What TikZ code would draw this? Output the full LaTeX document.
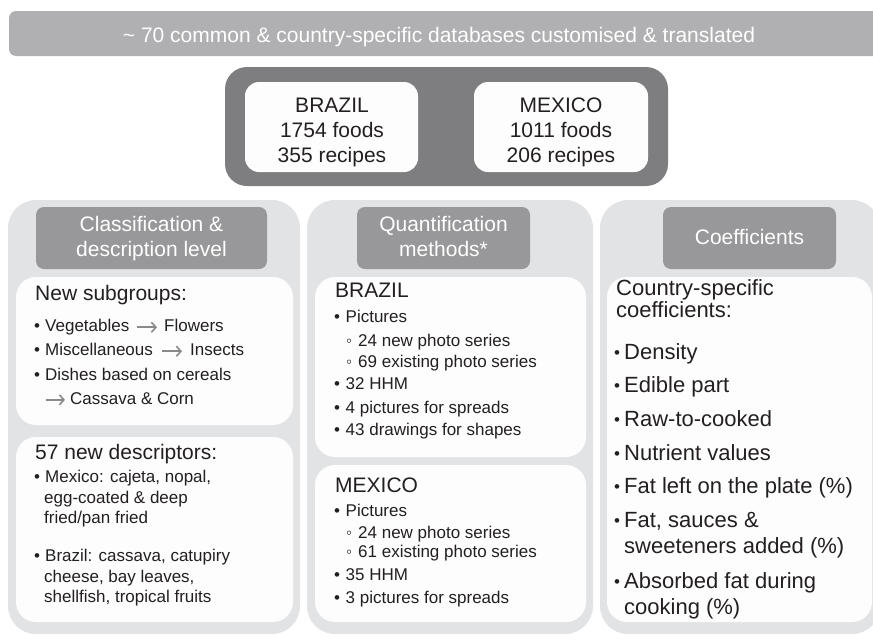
\documentclass[tikz,border=0pt]{standalone}
\usepackage{fontspec}
\setmainfont{Liberation Sans}
\usetikzlibrary{arrows.meta}
\definecolor{banner}{HTML}{B0B0B2}
\definecolor{darkbox}{HTML}{7E7E81}
\definecolor{hdr}{HTML}{98989A}
\definecolor{cont}{HTML}{E2E3E5}
\definecolor{inner}{HTML}{FDFDFD}
\definecolor{ink}{HTML}{231F20}
\definecolor{arrowgray}{HTML}{8A8A8C}
\newcommand\bul[1]{\makebox[#1][l]{•}}
\newcommand\sbul[1]{\makebox[#1][l]{\fontsize{17}{20}\selectfont\raisebox{1pt}{•}}}
\newcommand\wbul[1]{\makebox[#1][l]{◦}}
\begin{document}
\begin{tikzpicture}[x=1pt,y=-1pt,
  bigtxt/.style={inner sep=0pt, anchor=base west, text=ink, font=\fontsize{21}{25}\selectfont},
  cotxt/.style={inner sep=0pt, anchor=base west, text=ink, font=\fontsize{22}{26}\selectfont},
  smalltxt/.style={inner sep=0pt, anchor=base west, text=ink, font=\fontsize{17}{20}\selectfont, text height=12.5pt, text depth=3.6pt},
  hdrtxt/.style={inner sep=0pt, anchor=base, text=white, font=\fontsize{21}{25}\selectfont},
  toptxt/.style={inner sep=0pt, anchor=base, text=ink, font=\fontsize{21}{25}\selectfont},
  contbox/.style={fill=cont, rounded corners=28pt},
  hdrbox/.style={fill=hdr, rounded corners=8pt},
  innerbox/.style={fill=inner, rounded corners=20pt},
  subarrow/.style={draw=arrowgray, line width=1.6pt, -{Straight Barb[length=4.5pt,width=10pt]}}
]
\useasboundingbox (0,0) rectangle (873,640);
\clip (0,0) rectangle (873,640);
\fill[white] (0,0) rectangle (873,640);

% banner
\fill[banner, rounded corners=7pt] (9,11) rectangle (900,56);
\node[hdrtxt] (bantxt) at (439,42.5) {\textasciitilde\ 70 common \& country-specific databases customised \& translated};

% top country box
\fill[darkbox, rounded corners=22pt] (225,67) rectangle (668,186);
\fill[inner, rounded corners=14pt] (245,82) rectangle (418,172);
\fill[inner, rounded corners=14pt] (474,82) rectangle (648,172);
\node[toptxt] (br1) at (332,112.5) {BRAZIL};
\node[toptxt] (br2) at (332,137.5) {1754 foods};
\node[toptxt] (br3) at (332,162.5) {355 recipes};
\node[toptxt] (mx1) at (561,112.5) {MEXICO};
\node[toptxt] (mx2) at (561,137.5) {1011 foods};
\node[toptxt] (mx3) at (561,162.5) {206 recipes};

% column 1
\fill[contbox] (8,200) rectangle (300,634);
\fill[hdrbox] (36,207) rectangle (267,269);
\fill[innerbox] (16,277) rectangle (293,425);
\fill[innerbox] (16,437) rectangle (293,622);
\node[hdrtxt] (h1a) at (151.5,231.5) {Classification \&};
\node[hdrtxt] (h1b) at (151.5,256) {description level};
\node[bigtxt] (ns) at (35,300) {New subgroups:};
\node[smalltxt] (veg) at (34,331.7) {\bul{11pt}Vegetables};
\node[smalltxt] (flw) at (164,331.7) {Flowers};
\draw[subarrow] ([xshift=7pt]veg.east) -- ([xshift=-7pt]flw.west);
\node[smalltxt] (misc) at (34,355.7) {\bul{11pt}Miscellaneous};
\node[smalltxt] (ins) at (190,355.7) {Insects};
\draw[subarrow] ([xshift=9pt]misc.east) -- ([xshift=-8pt]ins.west);
\node[smalltxt] (dish) at (34,380) {\bul{11pt}Dishes based on cereals};
\node[smalltxt] (cas) at (70,404.3) {Cassava \& Corn};
\coordinate (casstart) at ([xshift=-24pt]cas.west);
\draw[subarrow] (casstart) -- ([xshift=-5pt]cas.west);
\node[bigtxt] (nd) at (35,459) {57 new descriptors:};
\node[smalltxt] (mex1) at (34,482.3) {\bul{11pt}Mexico: cajeta, nopal,};
\node[smalltxt] (mex2) at (44,503.3) {egg-coated \& deep};
\node[smalltxt] (mex3) at (44,523.3) {fried/pan fried};
\node[smalltxt] (bra1) at (34,561.5) {\bul{11pt}Brazil: cassava, catupiry};
\node[smalltxt] (bra2) at (44,582) {cheese, bay leaves,};
\node[smalltxt] (bra3) at (44,602.5) {shellfish, tropical fruits};

% column 2
\fill[contbox] (307,200) rectangle (593,634);
\fill[hdrbox] (357,207) rectangle (530,269);
\fill[innerbox] (315,277) rectangle (586,457);
\fill[innerbox] (315,465) rectangle (586,622);
\node[hdrtxt] (h2a) at (443.5,231.5) {Quantification};
\node[hdrtxt] (h2b) at (443.5,256) {methods*};
\node[bigtxt] (qbr) at (335,297.3) {BRAZIL};
\node[smalltxt] (qb1) at (334,322.7) {\bul{11.5pt}Pictures};
\node[smalltxt] (qb2) at (346,346.7) {\wbul{12pt}24 new photo series};
\node[smalltxt] (qb3) at (346,367.3) {\wbul{12pt}69 existing photo series};
\node[smalltxt] (qb4) at (334,389) {\bul{11.5pt}32 HHM};
\node[smalltxt] (qb5) at (334,413.3) {\bul{11.5pt}4 pictures for spreads};
\node[smalltxt] (qb6) at (334,435) {\bul{11.5pt}43 drawings for shapes};
\node[bigtxt] (qmx) at (335,492) {MEXICO};
\node[smalltxt] (qm1) at (334,516.7) {\bul{11.5pt}Pictures};
\node[smalltxt] (qm2) at (346,538.3) {\wbul{12pt}24 new photo series};
\node[smalltxt] (qm3) at (346,557.3) {\wbul{12pt}61 existing photo series};
\node[smalltxt] (qm4) at (334,580) {\bul{11.5pt}35 HHM};
\node[smalltxt] (qm5) at (334,603.3) {\bul{11.5pt}3 pictures for spreads};

% column 3
\fill[contbox] (600,200) rectangle (880,634);
\fill[hdrbox] (663,207) rectangle (836,269);
\fill[innerbox] (607,277) rectangle (872,622);
\node[hdrtxt] (h3) at (749.5,244.5) {Coefficients};
\node[cotxt] (cs1) at (616,295) {Country-specific};
\node[cotxt] (cs2) at (616,317.5) {coefficients:};
\node[cotxt] (c1) at (614,359.3) {\sbul{10pt}Density};
\node[cotxt] (c2) at (614,392.5) {\sbul{10pt}Edible part};
\node[cotxt] (c3) at (614,426.5) {\sbul{10pt}Raw-to-cooked};
\node[cotxt] (c4) at (614,460.3) {\sbul{10pt}Nutrient values};
\node[cotxt] (c5) at (614,493.5) {\sbul{10pt}Fat left on the plate (\%)};
\node[cotxt] (c6) at (614,527) {\sbul{10pt}Fat, sauces \&};
\node[cotxt] (c6b) at (624,553.3) {sweeteners added (\%)};
\node[cotxt] (c7) at (614,588.5) {\sbul{10pt}Absorbed fat during};
\node[cotxt] (c7b) at (624,614) {cooking (\%)};
\end{tikzpicture}
\end{document}
